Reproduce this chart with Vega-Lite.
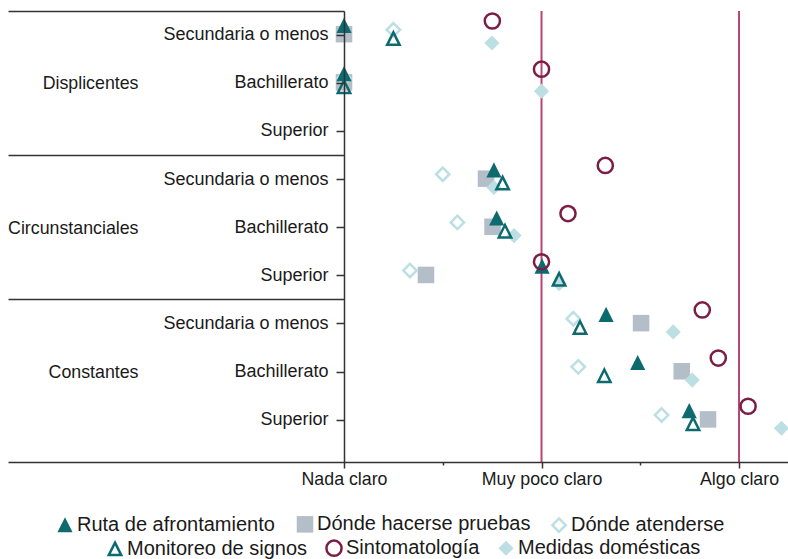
{
  "$schema": "https://vega.github.io/schema/vega-lite/v6.json",
  "width": 780,
  "height": 451,
  "autosize": {"type": "none"},
  "padding": {"left": 8, "top": 11, "right": 0, "bottom": 97},
  "background": "white",
  "config": {
    "view": {"stroke": null},
    "font": "Liberation Sans",
    "axis": {"labelFont": "Liberation Sans", "labelColor": "#1a1a1a", "grid": false},
    "legend": {"labelFont": "Liberation Sans", "labelColor": "#1a1a1a"}
  },
  "resolve": {
    "scale": {"shape": "independent", "fill": "independent", "stroke": "independent"},
    "axis": {"y": "independent"},
    "legend": {"shape": "independent", "fill": "independent", "stroke": "independent"}
  },
  "layer": [
    {
      "data": {"values": [{"referencia": 2}, {"referencia": 3}]},
      "mark": {"type": "rule", "color": "#b9466f", "strokeWidth": 2},
      "encoding": {
        "x": {
          "field": "referencia",
          "type": "quantitative",
          "scale": {"domain": [-0.7013, 3.248], "nice": false, "zero": false},
          "axis": {
            "title": null,
            "values": [1, 1.5, 2, 2.5, 3],
            "labelExpr": "datum.value == 1 ? 'Nada claro' : datum.value == 2 ? 'Muy poco claro' : datum.value == 3 ? 'Algo claro' : ''",
            "tickSize": {"condition": {"test": "datum.value == 1.5 || datum.value == 2.5", "value": 3}, "value": 6},
            "domainColor": "#333333",
            "domainWidth": 1.5,
            "tickColor": "#333333",
            "tickWidth": 1.5,
            "labelFontSize": 17.8,
            "labelPadding": 2,
            "labelFlush": false,
            "labelOverlap": false,
            "zindex": 1
          }
        }
      }
    },
    {
      "data": {"values": [
        {"serie": "Dónde hacerse pruebas", "fila": "Displicentes / Secundaria o menos", "valor": 1.0},
        {"serie": "Dónde hacerse pruebas", "fila": "Displicentes / Bachillerato", "valor": 1.0},
        {"serie": "Dónde hacerse pruebas", "fila": "Circunstanciales / Secundaria o menos", "valor": 1.719},
        {"serie": "Dónde hacerse pruebas", "fila": "Circunstanciales / Bachillerato", "valor": 1.752},
        {"serie": "Dónde hacerse pruebas", "fila": "Circunstanciales / Superior", "valor": 1.415},
        {"serie": "Dónde hacerse pruebas", "fila": "Constantes / Secundaria o menos", "valor": 2.504},
        {"serie": "Dónde hacerse pruebas", "fila": "Constantes / Bachillerato", "valor": 2.710},
        {"serie": "Dónde hacerse pruebas", "fila": "Constantes / Superior", "valor": 2.843},
        {"serie": "Dónde atenderse", "fila": "Displicentes / Secundaria o menos", "valor": 1.250},
        {"serie": "Dónde atenderse", "fila": "Displicentes / Bachillerato", "valor": 1.0},
        {"serie": "Dónde atenderse", "fila": "Circunstanciales / Secundaria o menos", "valor": 1.500},
        {"serie": "Dónde atenderse", "fila": "Circunstanciales / Bachillerato", "valor": 1.574},
        {"serie": "Dónde atenderse", "fila": "Circunstanciales / Superior", "valor": 1.334},
        {"serie": "Dónde atenderse", "fila": "Constantes / Secundaria o menos", "valor": 2.161},
        {"serie": "Dónde atenderse", "fila": "Constantes / Bachillerato", "valor": 2.186},
        {"serie": "Dónde atenderse", "fila": "Constantes / Superior", "valor": 2.608},
        {"serie": "Ruta de afrontamiento", "fila": "Displicentes / Secundaria o menos", "valor": 1.0},
        {"serie": "Ruta de afrontamiento", "fila": "Displicentes / Bachillerato", "valor": 1.0},
        {"serie": "Ruta de afrontamiento", "fila": "Circunstanciales / Secundaria o menos", "valor": 1.759},
        {"serie": "Ruta de afrontamiento", "fila": "Circunstanciales / Bachillerato", "valor": 1.773},
        {"serie": "Ruta de afrontamiento", "fila": "Circunstanciales / Superior", "valor": 2.003},
        {"serie": "Ruta de afrontamiento", "fila": "Constantes / Secundaria o menos", "valor": 2.327},
        {"serie": "Ruta de afrontamiento", "fila": "Constantes / Bachillerato", "valor": 2.487},
        {"serie": "Ruta de afrontamiento", "fila": "Constantes / Superior", "valor": 2.748}
      ]},
      "mark": {"type": "point", "size": 230, "strokeWidth": 2.5, "opacity": 1, "strokeJoin": "miter"},
      "encoding": {
        "x": {"field": "valor", "type": "quantitative"},
        "y": {
          "field": "fila",
          "type": "nominal",
          "scale": {
            "type": "band",
            "domain": [
              "Displicentes / Secundaria o menos", "Displicentes / Bachillerato", "Displicentes / Superior",
              "Circunstanciales / Secundaria o menos", "Circunstanciales / Bachillerato", "Circunstanciales / Superior",
              "Constantes / Secundaria o menos", "Constantes / Bachillerato", "Constantes / Superior"
            ],
            "paddingInner": 0,
            "paddingOuter": 0.183,
            "align": 0
          },
          "axis": {
            "title": null,
            "orient": "left",
            "offset": -336,
            "labelExpr": "split(datum.value, ' / ')[1]",
            "tickSize": 8,
            "labelPadding": 8,
            "domainColor": "#333333",
            "domainWidth": 1.5,
            "tickColor": "#333333",
            "tickWidth": 1.5,
            "labelFontSize": 18,
            "labelLimit": 300,
            "labelOverlap": false,
            "zindex": 1
          }
        },
        "yOffset": {
          "field": "serie",
          "type": "nominal",
          "scale": {
            "type": "point",
            "domain": ["Sintomatología", "Ruta de afrontamiento", "Dónde atenderse", "Dónde hacerse pruebas", "Monitoreo de signos", "Medidas domésticas"],
            "range": [10, 32],
            "padding": 0
          }
        },
        "shape": {
          "field": "serie",
          "type": "nominal",
          "scale": {
            "domain": ["Ruta de afrontamiento", "Dónde hacerse pruebas", "Dónde atenderse"],
            "range": ["M0,-1L1,1L-1,1Z", "M-1.09,-1.09H1.09V1.09H-1.09Z", "M0,-0.88L0.88,0L0,0.88L-0.88,0Z"]
          },
          "legend": {
            "title": null,
            "orient": "none",
            "direction": "horizontal",
            "legendX": 47,
            "legendY": 503,
            "labelFontSize": 20,
            "symbolSize": 230,
            "symbolStrokeWidth": 2.5,
            "labelOffset": 2,
            "columnPadding": 16,
            "labelLimit": 400
          }
        },
        "fill": {
          "field": "serie",
          "type": "nominal",
          "scale": {
            "domain": ["Ruta de afrontamiento", "Dónde hacerse pruebas", "Dónde atenderse"],
            "range": ["#0d6b70", "#b3bec8", "transparent"]
          }
        },
        "stroke": {
          "field": "serie",
          "type": "nominal",
          "scale": {
            "domain": ["Ruta de afrontamiento", "Dónde hacerse pruebas", "Dónde atenderse"],
            "range": ["transparent", "transparent", "#bcdfe3"]
          }
        }
      }
    },
    {
      "data": {"values": [
        {"serie": "Medidas domésticas", "fila": "Displicentes / Secundaria o menos", "valor": 1.749},
        {"serie": "Medidas domésticas", "fila": "Displicentes / Bachillerato", "valor": 2.0},
        {"serie": "Medidas domésticas", "fila": "Circunstanciales / Secundaria o menos", "valor": 1.759},
        {"serie": "Medidas domésticas", "fila": "Circunstanciales / Bachillerato", "valor": 1.861},
        {"serie": "Medidas domésticas", "fila": "Circunstanciales / Superior", "valor": 2.089},
        {"serie": "Medidas domésticas", "fila": "Constantes / Secundaria o menos", "valor": 2.667},
        {"serie": "Medidas domésticas", "fila": "Constantes / Bachillerato", "valor": 2.763},
        {"serie": "Medidas domésticas", "fila": "Constantes / Superior", "valor": 3.215},
        {"serie": "Monitoreo de signos", "fila": "Displicentes / Secundaria o menos", "valor": 1.250},
        {"serie": "Monitoreo de signos", "fila": "Displicentes / Bachillerato", "valor": 1.0},
        {"serie": "Monitoreo de signos", "fila": "Circunstanciales / Secundaria o menos", "valor": 1.803},
        {"serie": "Monitoreo de signos", "fila": "Circunstanciales / Bachillerato", "valor": 1.815},
        {"serie": "Monitoreo de signos", "fila": "Circunstanciales / Superior", "valor": 2.089},
        {"serie": "Monitoreo de signos", "fila": "Constantes / Secundaria o menos", "valor": 2.195},
        {"serie": "Monitoreo de signos", "fila": "Constantes / Bachillerato", "valor": 2.318},
        {"serie": "Monitoreo de signos", "fila": "Constantes / Superior", "valor": 2.767},
        {"serie": "Sintomatología", "fila": "Displicentes / Secundaria o menos", "valor": 1.751},
        {"serie": "Sintomatología", "fila": "Displicentes / Bachillerato", "valor": 2.0},
        {"serie": "Sintomatología", "fila": "Circunstanciales / Secundaria o menos", "valor": 2.323},
        {"serie": "Sintomatología", "fila": "Circunstanciales / Bachillerato", "valor": 2.134},
        {"serie": "Sintomatología", "fila": "Circunstanciales / Superior", "valor": 2.0},
        {"serie": "Sintomatología", "fila": "Constantes / Secundaria o menos", "valor": 2.814},
        {"serie": "Sintomatología", "fila": "Constantes / Bachillerato", "valor": 2.895},
        {"serie": "Sintomatología", "fila": "Constantes / Superior", "valor": 3.046}
      ]},
      "mark": {"type": "point", "size": 230, "strokeWidth": 2.5, "opacity": 1, "strokeJoin": "miter"},
      "encoding": {
        "x": {"field": "valor", "type": "quantitative"},
        "y": {
          "field": "fila",
          "type": "nominal",
          "axis": {
            "title": null,
            "orient": "left",
            "offset": -336,
            "values": ["Displicentes / Secundaria o menos", "Circunstanciales / Secundaria o menos", "Constantes / Secundaria o menos"],
            "bandPosition": 0,
            "labelExpr": "split(datum.value, ' / ')[0]",
            "tickSize": 336,
            "tickColor": "#333333",
            "tickWidth": 1.5,
            "domain": false,
            "labelPadding": -130,
            "labelOffset": 49,
            "labelAlign": "right",
            "labelBaseline": "middle",
            "labelFontSize": 17.8,
            "labelLimit": 300,
            "labelOverlap": false,
            "labelBound": false,
            "zindex": 1
          }
        },
        "yOffset": {"field": "serie", "type": "nominal"},
        "shape": {
          "field": "serie",
          "type": "nominal",
          "scale": {
            "domain": ["Monitoreo de signos", "Sintomatología", "Medidas domésticas"],
            "range": ["M0,-0.82L0.82,0.82L-0.82,0.82Z", "circle", "diamond"]
          },
          "legend": {
            "title": null,
            "orient": "none",
            "direction": "horizontal",
            "legendX": 97,
            "legendY": 527,
            "labelFontSize": 20,
            "symbolSize": 230,
            "symbolStrokeWidth": 2.5,
            "labelOffset": 2,
            "columnPadding": 13,
            "labelLimit": 400
          }
        },
        "fill": {
          "field": "serie",
          "type": "nominal",
          "scale": {
            "domain": ["Monitoreo de signos", "Sintomatología", "Medidas domésticas"],
            "range": ["transparent", "transparent", "#bcdfe3"]
          }
        },
        "stroke": {
          "field": "serie",
          "type": "nominal",
          "scale": {
            "domain": ["Monitoreo de signos", "Sintomatología", "Medidas domésticas"],
            "range": ["#0d6b70", "#7b1e46", "transparent"]
          }
        }
      }
    }
  ]
}
